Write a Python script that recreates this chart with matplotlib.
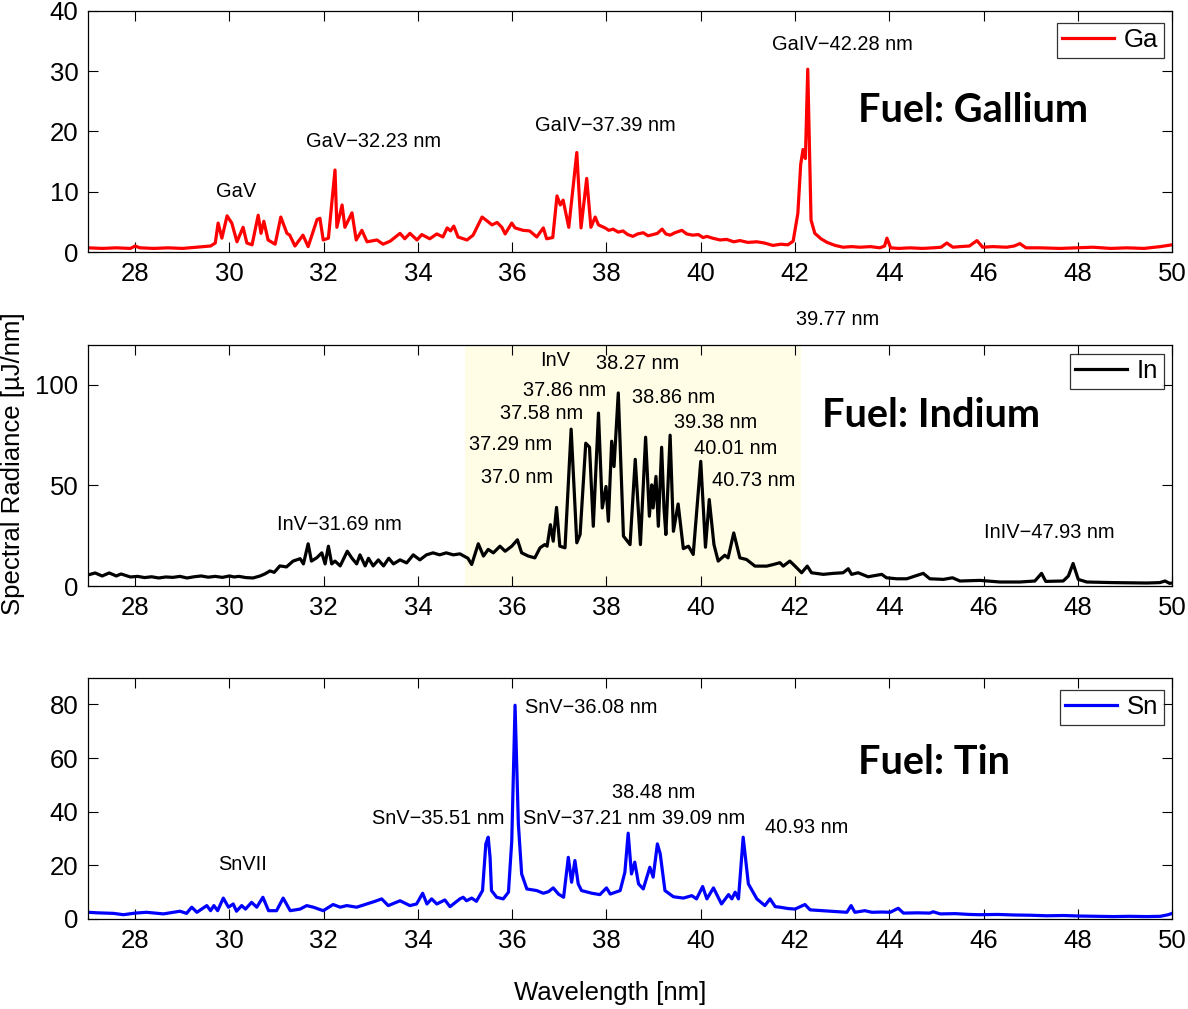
import matplotlib
matplotlib.use("Agg")
import matplotlib.pyplot as plt

plt.rcParams['font.family'] = ['Liberation Sans', 'DejaVu Sans']

# Gallium spectrum (wavelength nm, spectral radiance uJ/nm)
ga_wl = [27.0, 27.3, 27.6, 27.9, 28.0, 28.1, 28.4, 28.7, 29.0, 29.3,
         29.6, 29.7, 29.76, 29.84, 29.95, 30.05, 30.16, 30.29, 30.37, 30.48,
         30.61, 30.67, 30.73, 30.82, 30.97, 31.09, 31.22, 31.28, 31.39, 31.56,
         31.67, 31.86, 31.92, 31.99, 32.1, 32.24, 32.28, 32.39, 32.45, 32.6,
         32.69, 32.81, 32.92, 33.13, 33.26, 33.41, 33.62, 33.72, 33.83, 33.98,
         34.08, 34.25, 34.4, 34.53, 34.62, 34.69, 34.76, 34.85, 35.04, 35.17,
         35.36, 35.46, 35.57, 35.68, 35.78, 35.85, 35.99, 36.06, 36.23, 36.37,
         36.52, 36.66, 36.73, 36.86, 36.95, 37.02, 37.08, 37.2, 37.37, 37.46,
         37.58, 37.67, 37.76, 37.83, 37.97, 38.05, 38.14, 38.25, 38.35, 38.45,
         38.56, 38.66, 38.78, 38.88, 38.99, 39.08, 39.18, 39.26, 39.35, 39.45,
         39.6, 39.7, 39.83, 39.95, 40.05, 40.13, 40.25, 40.41, 40.55, 40.7,
         40.83, 41.0, 41.19, 41.35, 41.53, 41.7, 41.85, 41.96, 42.06, 42.12,
         42.17, 42.22, 42.27, 42.34, 42.42, 42.55, 42.68, 42.85, 43.02, 43.2,
         43.38, 43.6, 43.8, 43.9, 43.95, 44.03, 44.2, 44.44, 44.7, 44.93,
         45.1, 45.22, 45.35, 45.5, 45.7, 45.86, 45.98, 46.2, 46.49, 46.65,
         46.77, 46.9, 47.2, 47.62, 48.0, 48.32, 48.7, 49.04, 49.4, 49.75,
         50.0]
ga_val = [0.7, 0.6, 0.7, 0.6, 1.0, 0.7, 0.6, 0.7, 0.6, 0.8,
          1.0, 1.5, 4.8, 2.3, 6.0, 4.8, 1.7, 4.1, 1.5, 1.2,
          6.1, 3.1, 5.1, 2.0, 1.3, 5.8, 3.1, 2.8, 1.0, 2.8,
          0.9, 5.4, 5.6, 2.0, 2.3, 13.6, 4.1, 7.8, 4.1, 6.5,
          2.0, 3.6, 1.7, 2.0, 1.3, 1.8, 3.1, 2.2, 3.1, 2.0,
          2.9, 2.2, 3.0, 2.5, 4.0, 3.5, 4.3, 2.5, 2.0, 2.8,
          5.8, 5.2, 4.5, 4.9, 4.1, 3.0, 4.8, 4.0, 3.6, 3.5,
          2.5, 4.0, 2.2, 2.4, 9.3, 7.8, 8.6, 4.1, 16.5, 4.0,
          12.2, 4.1, 5.8, 4.5, 4.0, 3.6, 3.8, 3.3, 3.5, 2.9,
          2.6, 3.0, 3.2, 2.7, 2.9, 3.1, 3.8, 3.0, 2.8, 3.2,
          3.6, 3.0, 2.8, 2.9, 2.4, 2.6, 2.3, 2.0, 2.1, 1.7,
          1.9, 1.6, 1.7, 1.5, 1.1, 1.3, 1.2, 1.8, 6.4, 14.5,
          17.0, 15.5, 30.3, 5.3, 3.1, 2.2, 1.6, 1.1, 0.8, 0.9,
          0.8, 0.9, 0.7, 1.0, 2.3, 0.7, 0.6, 0.7, 0.6, 0.7,
          0.8, 1.5, 0.8, 0.9, 1.0, 1.9, 0.8, 0.9, 0.8, 1.0,
          1.4, 0.7, 0.7, 0.6, 0.7, 0.8, 0.6, 0.7, 0.6, 0.9,
          1.2]

# Indium spectrum
in_wl = [27.0, 27.15, 27.3, 27.45, 27.6, 27.7, 27.9, 28.05, 28.2, 28.35,
         28.5, 28.65, 28.8, 28.95, 29.1, 29.25, 29.4, 29.55, 29.7, 29.85,
         30.0, 30.1, 30.2, 30.35, 30.5, 30.65, 30.75, 30.86, 30.95, 31.07,
         31.21,
         31.35, 31.5, 31.57, 31.67, 31.74, 31.85, 31.96, 32.03, 32.1, 32.17,
         32.24, 32.35, 32.5, 32.6, 32.7, 32.77, 32.88, 32.95, 33.05, 33.16,
         33.27, 33.38, 33.48, 33.62, 33.76, 33.9, 34.04, 34.18, 34.32, 34.46,
         34.6, 34.75, 34.89, 35.06, 35.14, 35.28, 35.39, 35.49, 35.6, 35.74,
         35.85, 35.99, 36.11, 36.2, 36.34, 36.48, 36.59, 36.69, 36.74, 36.81,
         36.87, 36.94, 37.01, 37.12, 37.25, 37.37, 37.44, 37.56, 37.64, 37.72,
         37.83, 37.91, 37.99, 38.04, 38.11, 38.16, 38.25, 38.36, 38.5, 38.61,
         38.72, 38.83, 38.91, 38.96, 38.99, 39.05, 39.1, 39.17, 39.22, 39.26,
         39.35, 39.42, 39.52, 39.63, 39.74, 39.84, 40.0, 40.1, 40.18, 40.28,
         40.37, 40.51, 40.58, 40.7, 40.83, 40.97, 41.15, 41.4, 41.54, 41.68,
         41.75, 41.89, 42.0, 42.14, 42.26, 42.35, 42.6, 42.81, 43.02, 43.13,
         43.2, 43.34, 43.55, 43.84, 43.94, 44.16, 44.37, 44.72, 44.86, 45.15,
         45.34, 45.5, 45.92, 46.35, 46.77, 47.09, 47.23, 47.32, 47.69, 47.8,
         47.9, 48.01, 48.19, 48.75, 49.46, 49.74, 49.85, 49.95, 50.0]
in_val = [5.5, 6.5, 5.0, 6.5, 5.0, 6.0, 4.5, 4.8, 4.2, 4.6,
          4.0, 4.5, 4.3, 4.8, 4.0, 4.6, 5.0, 4.4, 4.8, 4.3,
          5.0, 4.5, 4.8, 4.2, 4.0, 5.0, 6.0, 7.5, 6.8, 10.0,
          9.5,
          12.4, 13.6, 11.0, 21.0, 12.4, 14.0, 16.5, 11.0, 19.8, 11.0,
          12.4, 10.0, 17.3, 13.8, 11.0, 15.5, 10.0, 13.8, 10.0, 13.0,
          10.0, 13.8, 11.0, 13.0, 11.5, 15.5, 13.0, 15.5, 16.5, 15.5,
          16.5, 15.5, 16.0, 13.8, 10.7, 21.0, 14.9, 18.2, 16.5, 19.8,
          17.3, 19.8, 23.0, 16.5, 14.9, 14.0, 19.0, 20.6, 19.8, 30.5,
          22.3, 39.1, 19.8, 19.0, 78.0, 21.5, 25.6, 71.0, 69.0, 29.7,
          86.0, 38.8, 49.5, 32.2, 72.0, 59.4, 96.0, 24.8, 20.6, 63.0,
          20.6, 74.0, 34.7, 50.3, 38.8, 54.5, 29.7, 69.0, 38.8, 25.6,
          75.0, 27.2, 40.8, 18.6, 19.8, 15.7, 62.0, 19.3, 43.0, 20.6,
          12.4, 15.3, 14.0, 26.4, 14.0, 13.2, 9.9, 9.9, 10.7, 11.6,
          9.9, 12.4, 9.9, 6.6, 9.9, 6.6, 5.8, 6.3, 6.6, 8.6,
          5.8, 6.6, 4.6, 5.8, 4.1, 3.6, 3.6, 6.3, 3.6, 3.3,
          4.1, 2.5, 2.8, 2.0, 2.0, 2.5, 6.3, 2.3, 2.5, 5.0,
          11.2, 3.3, 2.0, 1.7, 1.5, 1.7, 2.5, 1.3, 1.5]

# Tin spectrum
sn_wl = [27.0, 27.2, 27.54, 27.75, 28.0, 28.24, 28.6, 28.95, 29.09, 29.2,
         29.31, 29.41, 29.52, 29.6, 29.67, 29.75, 29.87, 29.98, 30.08, 30.15,
         30.26, 30.34, 30.47, 30.58, 30.71, 30.83, 31.0, 31.14, 31.29, 31.5,
         31.64, 31.78, 31.99, 32.2, 32.35, 32.49, 32.7, 32.91, 33.09, 33.23,
         33.37, 33.62, 33.83, 33.97, 34.1, 34.19, 34.29, 34.4, 34.57, 34.68,
         34.89, 34.96, 35.03, 35.14, 35.24, 35.37, 35.44, 35.49, 35.53, 35.56,
         35.67, 35.81, 35.92, 35.99, 36.06, 36.13, 36.2, 36.31, 36.52, 36.66,
         36.77, 36.87, 36.98, 37.09, 37.19, 37.26, 37.33, 37.4, 37.47, 37.69,
         37.86, 38.0, 38.08, 38.29, 38.39, 38.46, 38.53, 38.6, 38.68, 38.78,
         38.92, 38.99, 39.08, 39.14, 39.24, 39.42, 39.63, 39.81, 39.91, 40.04,
         40.13, 40.27, 40.44, 40.59, 40.66, 40.73, 40.8, 40.9, 41.01, 41.19,
         41.36, 41.47, 41.58, 41.68, 41.85, 42.0, 42.21, 42.32, 42.5, 42.74,
         42.95, 43.1, 43.19, 43.27, 43.48, 43.63, 43.85, 44.02, 44.19, 44.3,
         44.6, 44.86, 44.93, 45.08, 45.4, 45.7, 45.92, 46.3, 46.63, 47.0,
         47.34, 47.7, 48.05, 48.4, 48.75, 49.1, 49.46, 49.75, 49.92, 50.0]
sn_val = [2.5, 2.3, 2.1, 1.6, 2.2, 2.5, 1.9, 2.9, 2.1, 4.4,
          2.5, 3.7, 5.0, 3.1, 5.0, 3.1, 7.8, 4.4, 5.6, 2.9,
          5.0, 3.7, 6.2, 4.4, 8.1, 3.1, 3.1, 7.8, 3.1, 3.7,
          5.0, 4.4, 3.1, 5.4, 4.4, 5.0, 4.4, 5.6, 6.6, 7.5,
          5.0, 6.8, 5.0, 5.6, 9.6, 5.6, 7.5, 5.6, 7.1, 4.6,
          7.5, 8.1, 6.8, 7.8, 6.6, 10.6, 28.0, 30.5, 23.0, 10.6,
          8.1, 7.5, 10.0, 29.0, 79.7, 35.5, 16.8, 11.2, 10.6, 9.6,
          10.2, 11.6, 9.3, 8.1, 23.0, 13.7, 21.8, 13.1, 10.6, 9.6,
          9.1, 11.6, 9.3, 10.6, 17.4, 32.0, 16.8, 21.2, 13.1, 11.2,
          19.3, 15.6, 28.0, 24.3, 10.6, 8.3, 7.8, 8.7, 7.5, 12.1,
          7.5, 11.6, 5.6, 9.1, 7.5, 10.0, 7.5, 30.5, 13.1, 7.5,
          5.0, 7.5, 4.6, 4.4, 3.9, 3.7, 5.4, 3.4, 3.2, 2.9,
          2.7, 2.5, 5.0, 2.5, 3.1, 2.5, 2.6, 2.5, 4.0, 2.2,
          2.3, 2.2, 2.7, 1.9, 2.0, 1.7, 1.6, 1.7, 1.5, 1.4,
          1.2, 1.3, 1.1, 1.0, 0.9, 1.0, 0.9, 1.0, 1.6, 2.1]

# line labels: (text, wavelength, value)
ga_labels = [("GaV", 29.72, 10.0), ("GaV\u221232.23 nm", 31.63, 18.3),
             ("GaIV\u221237.39 nm", 36.48, 21.0), ("GaIV\u221242.28 nm", 41.51, 34.4)]
in_labels = [("InV\u221231.69 nm", 31.01, 30.7), ("InV", 36.59, 111.9),
             ("38.27 nm", 37.78, 110.4), ("37.86 nm", 36.23, 97.0),
             ("38.86 nm", 38.54, 93.6), ("37.58 nm", 35.74, 85.6),
             ("39.38 nm", 39.43, 81.2), ("37.29 nm", 35.08, 70.3),
             ("40.01 nm", 39.86, 68.3), ("37.0 nm", 35.34, 54.0),
             ("40.73 nm", 40.24, 52.5), ("InIV\u221247.93 nm", 46.01, 26.7),
             ("39.77 nm", 42.02, 132.7)]
sn_labels = [("SnVII", 29.76, 20.2), ("SnV\u221235.51 nm", 33.03, 37.4),
             ("SnV\u221236.08 nm", 36.27, 78.9), ("SnV\u221237.21 nm", 36.23, 37.4),
             ("38.48 nm", 38.12, 47.1), ("39.09 nm", 39.18, 37.4),
             ("40.93 nm", 41.36, 34.0)]

panels = [
    dict(wl=ga_wl, val=ga_val, color="#ff0000", name="Ga", ylim=(0, 40),
         yticks=[0, 10, 20, 30, 40], labels=ga_labels,
         fuel="Fuel: Gallium", fuel_pos=(43.34, 23.5), leg_top=0.95),
    dict(wl=in_wl, val=in_val, color="#000000", name="In", ylim=(0, 120),
         yticks=[0, 50, 100], labels=in_labels,
         fuel="Fuel: Indium", fuel_pos=(42.57, 85.0), leg_top=0.963),
    dict(wl=sn_wl, val=sn_val, color="#0000ff", name="Sn", ylim=(0, 90),
         yticks=[0, 20, 40, 60, 80], labels=sn_labels,
         fuel="Fuel: Tin", fuel_pos=(43.34, 58.3), leg_top=0.95),
]

fig = plt.figure(figsize=(11.88, 10.09), dpi=100)
bottoms = [0.7502, 0.4192, 0.0892]

for p, b in zip(panels, bottoms):
    ax = fig.add_axes([0.0741, b, 0.9125, 0.2392])
    if p["name"] == "In":
        ax.axvspan(35.0, 42.12, color="#fffde6", zorder=0, lw=0)
    ax.plot(p["wl"], p["val"], color=p["color"], lw=2.3, label=p["name"])
    ax.set_xlim(27, 50)
    ax.set_ylim(*p["ylim"])
    ax.set_xticks(range(28, 51, 2))
    ax.set_yticks(p["yticks"])
    ax.tick_params(direction="in", length=7, width=0.8, top=True, right=True,
                   labelsize=18.5, pad=7)
    for s in ax.spines.values():
        s.set_linewidth(0.9)
    for txt, x, y in p["labels"]:
        ax.text(x, y, txt, fontsize=14.4, ha="left", va="center", clip_on=False)
    ax.text(p["fuel_pos"][0], p["fuel_pos"][1], p["fuel"], fontsize=28.5,
            fontweight="bold", family=["Lato", "DejaVu Sans"], ha="left", va="center")
    leg = ax.legend(loc="upper right", bbox_to_anchor=(0.9926, p["leg_top"]),
                    fontsize=18.5, frameon=True, fancybox=False, handlelength=2.0,
                    borderpad=0.22, handletextpad=0.4, borderaxespad=0)
    leg.get_frame().set_edgecolor("black")
    leg.get_frame().set_linewidth(0.9)

fig.text(0.011, 0.541, "Spectral Radiance [\u00b5J/nm]", rotation=90,
         fontsize=18.5, ha="center", va="center")
fig.text(0.514, 0.016, "Wavelength [nm]", fontsize=18.5, ha="center", va="center")

fig.savefig("out.png", dpi=100)
